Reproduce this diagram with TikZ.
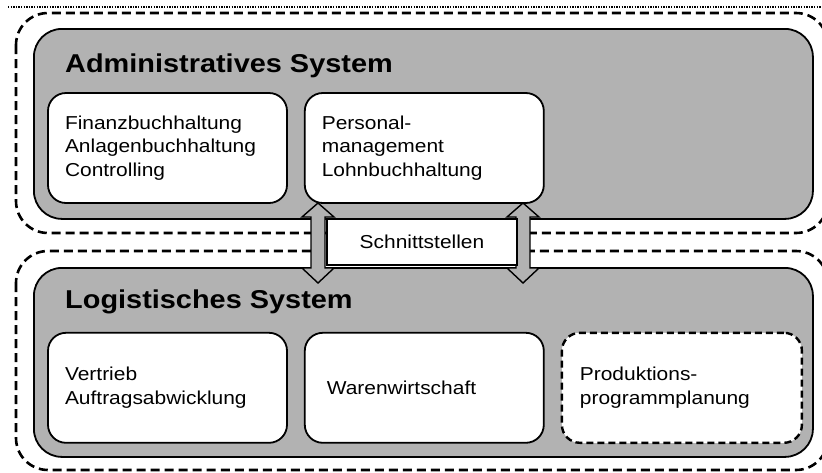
\documentclass[tikz,border=0pt]{standalone}
\usepackage{fontspec}
\setmainfont{Liberation Sans}[FakeStretch=1.12]
\usepackage{tikz}
\usetikzlibrary{positioning, calc}
\definecolor{sysgray}{RGB}{178,178,178}
\tikzset{%
	sysborder/.style={draw, line width=2.6pt, dash pattern=on 9pt off 5pt, rounded corners=32pt},
	sysbox/.style={draw, line width=1.8pt, fill=sysgray, rounded corners=28pt, anchor=north west,%
		minimum width=779, inner sep=0mm},
	task/.style={draw, line width=1.8pt, fill=white, rounded corners=18pt, minimum width=239,%
		minimum height=110, inner sep=0mm, text width=205, align=left, font=\fontsize{18.7}{23.5}\selectfont},
	plan/.style={task, line width=2.4pt, dash pattern=on 7pt off 4pt},
	title/.style={anchor=base west, inner sep=0mm, font=\fontsize{25.8}{30}\selectfont\bfseries},
	link/.style={draw, line width=1.4pt, fill=sysgray, line join=miter},
	iface/.style={draw, line width=1.6pt, fill=white, minimum width=190, minimum height=46,%
		inner sep=0mm, font=\fontsize{18.7}{22}\selectfont}
}
\begin{document}
\begin{tikzpicture}[x=1pt, y=-1pt]
	\useasboundingbox (0,0) rectangle (822,472);
	\clip (0,0) rectangle (822,472);
	\draw[line width=1.3pt, dash pattern=on 1.3pt off 1.3pt] (8,7) -- (822,7);

	\draw[sysborder] (16,13) rectangle (828,233);
	\draw[sysborder] (16,251) rectangle (828,470);

	\node[sysbox, minimum height=190] (admin) at (33,28) {};
	\node[sysbox, minimum height=189] (logis) at (33,267) {};
	\node[title] (admintitle) at (65,72) {Administratives System};
	\node[title] (logistitle) at (65,308) {Logistisches System};

	\foreach \ax in {318,523}
		\draw[link] (\ax,203) -- (\ax+16,217) -- (\ax+7,217) -- (\ax+7,268) -- (\ax+16,268)%
			-- (\ax,283) -- (\ax-16,268) -- (\ax-7,268) -- (\ax-7,217) -- (\ax-16,217) -- cycle;

	\node[task] (finanz) at (167.5,148) {Finanzbuchhaltung\\Anlagenbuchhaltung\\Controlling};
	\node[task, right=16pt of finanz] (personal) {Personal-\\management\\Lohnbuchhaltung};
	\node[task, below=128pt of finanz] (vertrieb) {Vertrieb\\Auftragsabwicklung};
	\node[task, right=16pt of vertrieb, text width=195] (waren) {Warenwirtschaft};
	\node[plan, right=16pt of waren, minimum width=240, text width=204] (produktion) {Produktions-\\programmplanung};

	\node[iface] (schnitt) at (422,242) {Schnittstellen};
\end{tikzpicture}
\end{document}
